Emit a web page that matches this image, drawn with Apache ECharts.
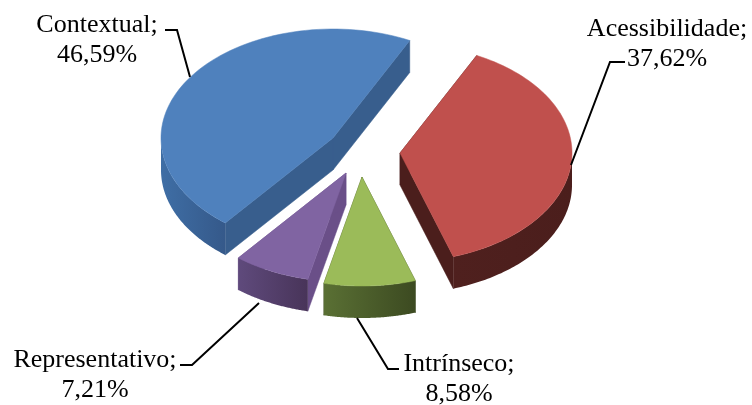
<!DOCTYPE html>
<html><head><meta charset="utf-8">
<style>html,body{margin:0;padding:0;background:#fff}#c{width:752px;height:405px}</style>
<script src="https://cdn.jsdelivr.net/npm/echarts@6/dist/echarts.min.js"></script>
</head><body><div id="c"></div>
<script>
const categories = ['Acessibilidade', 'Intrínseco', 'Representativo', 'Contextual'];
const values = [37.62, 8.58, 7.21, 46.59];
const valueLabels = ['37,62%', '8,58%', '7,21%', '46,59%'];
const topColors = ['#c0504d', '#9bbb59', '#8064a2', '#4f81bd'];
const rimColors = [['#4f201e', '#4b1e1c'], ['#5a7034', '#3c4a21'], ['#5f4a7c', '#483459'], ['#3f6ea5', '#35598a']];
const wallColors = ['#4b1e1c', '#3c4a21', '#6a4f88', '#385e8d'];
const centers = [[400, 153], [362, 177], [346, 173], [333, 138]];
const labelAnchors = [[667, 44], [459, 379], [95, 375], [97, 40]];
const leaders = [
  [[625, 62], [610, 62], [571, 165]],
  [[399, 369], [388, 369], [357, 318]],
  [[180, 365], [192, 365], [259, 303]],
  [[165, 30], [177, 30], [190, 77]]
];
const RX = 172, RY = 109, DEPTH = 32, START_DEG = 63.5;

const total = values.reduce((a, b) => a + b, 0);
function arcPts(c, from, to, dy) {
  const pts = [], n = 80;
  for (let i = 0; i <= n; i++) {
    const t = (from + (to - from) * i / n) * Math.PI / 180;
    pts.push([c[0] + RX * Math.cos(t), c[1] - RY * Math.sin(t) + dy]);
  }
  return pts;
}
function renderSlice(params, api) {
  const i = params.dataIndex;
  let before = 0;
  for (let k = 0; k < i; k++) before += values[k];
  const from = START_DEG - before / total * 360;
  const to = from - api.value(1) / total * 360;
  const c = centers[i];
  const top = arcPts(c, from, to, 0);
  const rimFrom = Math.min(from, 0), rimTo = Math.max(to, -180);
  const rimTop = arcPts(c, rimFrom, rimTo, 0);
  const rimLow = arcPts(c, rimFrom, rimTo, DEPTH);
  const a = top[0], b = top[top.length - 1];
  const wall = (p) => ({
    type: 'polygon',
    shape: { points: [c, p, [p[0], p[1] + DEPTH], [c[0], c[1] + DEPTH]] },
    style: { fill: wallColors[i], stroke: wallColors[i], lineWidth: 0.5 }
  });
  return {
    type: 'group',
    children: [
      wall(a), wall(b),
      { type: 'polygon', shape: { points: rimTop.concat(rimLow.slice().reverse()) },
        style: { fill: new echarts.graphic.LinearGradient(0, 0, 1, 0, [
          { offset: 0, color: rimColors[i][0] }, { offset: 1, color: rimColors[i][1] }]) } },
      { type: 'polygon', shape: { points: [c].concat(top) },
        style: { fill: topColors[i], stroke: topColors[i], lineWidth: 0.5 } },
      { type: 'polyline', shape: { points: leaders[i] },
        style: { fill: null, stroke: '#000', lineWidth: 2 } },
      { type: 'text', x: labelAnchors[i][0], y: labelAnchors[i][1],
        style: { text: categories[i] + ';\n' + valueLabels[i], fill: '#000', align: 'center',
          verticalAlign: 'middle', lineHeight: 30, fontFamily: 'Liberation Serif', fontSize: 26 } }
    ]
  };
}
const chart = echarts.init(document.getElementById('c'), null, { renderer: 'canvas' });
chart.setOption({
  backgroundColor: '#fff',
  animation: false,
  series: [{
    type: 'custom',
    coordinateSystem: 'none',
    silent: true,
    renderItem: renderSlice,
    data: categories.map((n, i) => ({ name: n, value: [i, values[i]] }))
  }]
});
</script></body></html>
